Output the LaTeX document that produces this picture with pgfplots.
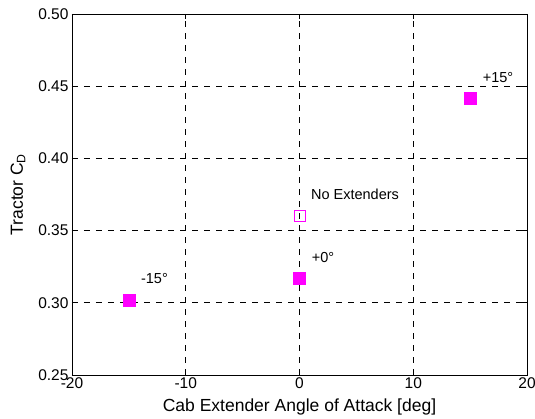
\documentclass[border=0pt]{standalone}
\usepackage{pgfplots}
\pgfplotsset{compat=1.18}
\usepackage{fontspec}
\setmainfont{Liberation Sans}
\definecolor{magentapt}{RGB}{255,0,255}

\begin{document}
\begin{tikzpicture}[x=1pt,y=1pt]
\path[use as bounding box] (-72,-44) rectangle (463,375);
\begin{axis}[
  at={(0,0)}, anchor=south west,
  scale only axis, width=455pt, height=361pt,
  xmin=-20, xmax=20, ymin=0.25, ymax=0.50,
  xtick={-20,-10,0,10,20},
  ytick={0.25,0.30,0.35,0.40,0.45,0.50},
  yticklabel style={/pgf/number format/.cd, fixed, fixed zerofill, precision=2},
  /pgf/number format/assume math mode=true,
  tick align=inside, major tick length=5pt,
  tick style={black, line width=0.6pt},
  axis line style={black, line width=0.9pt},
  grid=major,
  major grid style={black, line width=0.6pt, dash pattern=on 6pt off 6pt},
  ticklabel style={font=\fontsize{15.5}{17}\selectfont},
  xticklabel style={yshift=1pt},
  label style={font=\fontsize{17.5}{20}\selectfont},
  xlabel={Cab Extender Angle of Attack [deg]},
  ylabel={Tractor C\textsubscript{D}},
  xlabel style={yshift=-3pt},
  ylabel style={yshift=6pt},
  clip=false,
]
% tractor drag with cab extenders at -15, 0 and +15 deg
\addplot[only marks, mark=square*, mark size=6pt, mark options={fill=magentapt, draw=magentapt}]
  coordinates {(-15,0.3015) (0,0.317) (15,0.4415)};
% baseline without extenders
\addplot[only marks, mark=square, mark size=5.5pt, mark options={draw=magentapt, line width=0.7pt}]
  coordinates {(0,0.360)};
\node[font=\fontsize{14.5}{16}\selectfont] at (axis cs:-12.75,0.3170) {-15°};
\node[font=\fontsize{14.5}{16}\selectfont] at (axis cs:2.07,0.3312) {+0°};
\node[font=\fontsize{14.5}{16}\selectfont] at (axis cs:17.45,0.4561) {+15°};
\node[font=\fontsize{14.5}{16}\selectfont] at (axis cs:4.88,0.3749) {No Extenders};
\end{axis}
\end{tikzpicture}
\end{document}
